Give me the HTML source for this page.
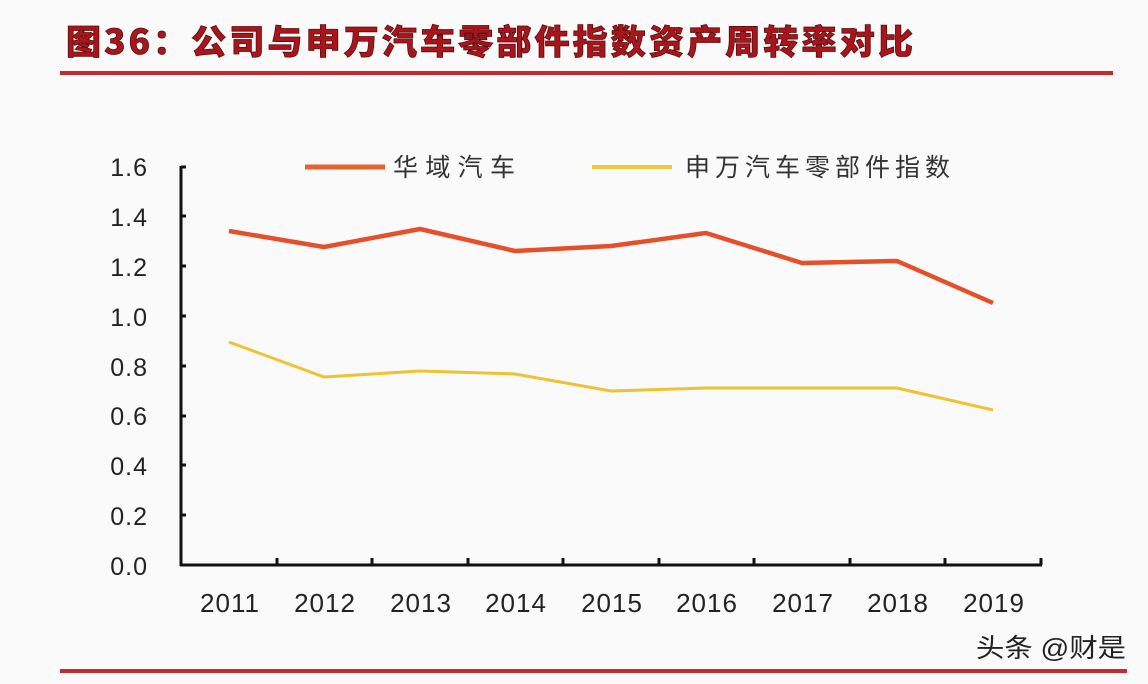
<!DOCTYPE html>
<html><head><meta charset="utf-8"><style>
body{margin:0;background:#fafafa;}
svg{display:block}
text{font-family:"Liberation Sans","Noto Sans CJK SC",sans-serif;}
</style></head><body>
<svg width="1148" height="684" viewBox="0 0 1148 684">
<rect width="1148" height="684" fill="#fafafa"/>
<text x="66" y="54" font-size="34" font-weight="bold" fill="#a8161c" letter-spacing="3" style="font-family:'Noto Sans CJK SC',sans-serif;font-weight:900" stroke="#5a0c0c" stroke-width="0.8" textLength="850" lengthAdjust="spacingAndGlyphs">图36：公司与申万汽车零部件指数资产周转率对比</text>
<rect x="60" y="71" width="1053" height="4" fill="#c52a2e"/>
<rect x="60" y="669" width="1067" height="4" fill="#c52a2e"/>
<g stroke="#111" stroke-width="3" fill="none">
<line x1="181" y1="166" x2="181" y2="566"/>
<line x1="180" y1="565" x2="1042" y2="565"/>
</g>
<g stroke="#111" stroke-width="3">
<line x1="181" y1="167" x2="186" y2="167"/>
<line x1="181" y1="216" x2="186" y2="216"/>
<line x1="181" y1="266" x2="186" y2="266"/>
<line x1="181" y1="316" x2="186" y2="316"/>
<line x1="181" y1="366" x2="186" y2="366"/>
<line x1="181" y1="416" x2="186" y2="416"/>
<line x1="181" y1="465" x2="186" y2="465"/>
<line x1="181" y1="515" x2="186" y2="515"/>
<line x1="277" y1="558" x2="277" y2="565"/>
<line x1="372" y1="558" x2="372" y2="565"/>
<line x1="468" y1="558" x2="468" y2="565"/>
<line x1="563" y1="558" x2="563" y2="565"/>
<line x1="659" y1="558" x2="659" y2="565"/>
<line x1="754" y1="558" x2="754" y2="565"/>
<line x1="850" y1="558" x2="850" y2="565"/>
<line x1="945" y1="558" x2="945" y2="565"/>
<line x1="1041" y1="558" x2="1041" y2="565"/>
</g>
<g font-size="25" fill="#222" text-anchor="end" letter-spacing="1">
<text x="148" y="176">1.6</text>
<text x="148" y="226">1.4</text>
<text x="148" y="276">1.2</text>
<text x="148" y="326">1.0</text>
<text x="148" y="376">0.8</text>
<text x="148" y="425">0.6</text>
<text x="148" y="475">0.4</text>
<text x="148" y="525">0.2</text>
<text x="148" y="575">0.0</text>
</g>
<g font-size="26" fill="#222" text-anchor="middle" letter-spacing="1">
<text x="230" y="612">2011</text>
<text x="325" y="612">2012</text>
<text x="421" y="612">2013</text>
<text x="516" y="612">2014</text>
<text x="612" y="612">2015</text>
<text x="707" y="612">2016</text>
<text x="803" y="612">2017</text>
<text x="898" y="612">2018</text>
<text x="994" y="612">2019</text>
</g>
<polyline fill="none" stroke="#e5502a" stroke-width="4.5" stroke-linejoin="round" points="229,231 324,247 420,229 515,251 611,246 706,233 802,263 897,261 993,303"/>
<polyline fill="none" stroke="#efc233" stroke-width="3" stroke-linejoin="round" points="229,342 324,377 420,371 515,374 611,391 706,388 802,388 897,388 993,410"/>
<line x1="305" y1="167" x2="385" y2="167" stroke="#e8622e" stroke-width="5"/>
<text x="393" y="176" font-size="25" fill="#333" textLength="122" lengthAdjust="spacing">华域汽车</text>
<line x1="592" y1="167" x2="672" y2="167" stroke="#f0c83a" stroke-width="4"/>
<text x="685" y="176" font-size="25" fill="#333" textLength="265" lengthAdjust="spacing">申万汽车零部件指数</text>
<text x="976" y="657" font-size="26" fill="#222" textLength="150" lengthAdjust="spacingAndGlyphs">头条 @财是</text>
</svg>
</body></html>
